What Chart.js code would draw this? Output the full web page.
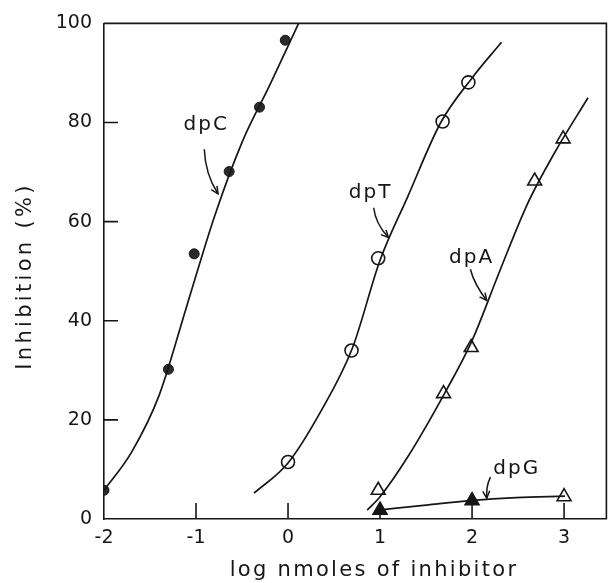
<!DOCTYPE html>
<html>
<head>
<meta charset="utf-8">
<script src="https://cdn.jsdelivr.net/npm/chart.js@4"></script>
<style>
  html, body { margin: 0; padding: 0; background: #fff; }
</style>
</head>
<body>
<canvas id="chart" width="616" height="583"></canvas>
<script>
// measured points (log nmoles, % inhibition)
const dpC_x = [-2, -1.3, -1.02, -0.64, -0.31, -0.03];
const dpC_y = [5.8, 30.2, 53.5, 70.1, 83.1, 96.6];
const dpT_x = [0, 0.69, 0.98, 1.68, 1.96];
const dpT_y = [11.5, 34, 52.6, 80.2, 88.1];
const dpA_x = [0.98, 1.69, 1.99, 2.68, 2.99];
const dpA_y = [5.8, 25.3, 34.6, 68.2, 76.7];
const dpG_x = [1, 2, 3];
const dpG_y = [1.8, 3.7, 4.5];

// hand drawn curves
const fitC_x = [-2, -1.7, -1.4, -1.1, -0.8, -0.5, -0.2, 0.115];
const fitC_y = [5.8, 13.5, 25, 43, 61, 76, 87.5, 100];
const fitT_x = [-0.37, 0, 0.35, 0.7, 1.0, 1.3, 1.66, 2.0, 2.32];
const fitT_y = [5.2, 11.3, 21.5, 34.5, 52.2, 65, 80, 89, 96.2];
const fitA_x = [0.86, 1.0, 1.3, 1.7, 2.0, 2.3, 2.6, 2.9, 3.26];
const fitA_y = [1.8, 4.5, 12.5, 25.3, 36, 50, 63.5, 74, 85];
const fitG_x = [0.98, 1.5, 1.98, 2.48, 3.01];
const fitG_y = [1.8, 2.8, 3.7, 4.3, 4.6];

const xTicks = [-2, -1, 0, 1, 2, 3];
const yTicks = [0, 20, 40, 60, 80, 100];

const xTitle = 'log nmoles of inhibitor';
const yTitle = 'Inhibition (%)';

// curve labels with their arrows (data units)
const notes = [
    { text: 'dpC', at: [-1.135, 78.5], arrow: [[-0.91, 74.6], [-0.9, 69.6], [-0.761, 65.6]] },
    { text: 'dpT', at: [0.66, 64.8], arrow: [[0.931, 62.8], [0.95, 59.6], [1.091, 56.8]] },
    { text: 'dpA', at: [1.75, 51.7], arrow: [[1.982, 50.4], [2.02, 47.5], [2.159, 44.1]] },
    { text: 'dpG', at: [2.231, 9.05], arrow: [[2.2, 8.45], [2.15, 6.6], [2.16, 4.2]] }
];

const INK = '#161616';
const FONT = 'DejaVu Sans';

function pts(xs, ys) {
    return xs.map((v, i) => ({ x: v, y: ys[i] }));
}

function curve(xs, ys) {
    return {
        data: pts(xs, ys),
        showLine: true,
        borderColor: INK,
        borderWidth: 1.7,
        pointRadius: 0,
        cubicInterpolationMode: 'monotone',
        fill: false
    };
}

// frame, inward ticks, labels and axis titles
const annotate = {
    id: 'annotate',
    afterDraw(chart) {
        const { ctx, chartArea: a, scales: { x, y } } = chart;
        ctx.save();
        ctx.strokeStyle = INK;
        ctx.fillStyle = INK;
        ctx.lineWidth = 1.6;

        ctx.beginPath();
        ctx.moveTo(a.left, a.top);
        ctx.lineTo(a.right, a.top);
        ctx.lineTo(a.right, a.bottom);
        ctx.stroke();

        ctx.beginPath();
        yTicks.slice(1, -1).forEach(v => {
            const py = y.getPixelForValue(v);
            ctx.moveTo(a.left, py);
            ctx.lineTo(a.left + 14, py);
        });
        xTicks.slice(1).forEach(v => {
            const px = x.getPixelForValue(v);
            ctx.moveTo(px, a.bottom);
            ctx.lineTo(px, a.bottom - 16);
        });
        ctx.stroke();

        // labels + curved arrows
        ctx.font = '20px ' + FONT;
        ctx.letterSpacing = '2px';
        ctx.textAlign = 'left';
        ctx.textBaseline = 'alphabetic';
        ctx.lineWidth = 1.5;
        notes.forEach(n => {
            ctx.fillText(n.text, x.getPixelForValue(n.at[0]), y.getPixelForValue(n.at[1]));
            const p = n.arrow.map(q => [x.getPixelForValue(q[0]), y.getPixelForValue(q[1])]);
            ctx.beginPath();
            ctx.moveTo(p[0][0], p[0][1]);
            ctx.quadraticCurveTo(p[1][0], p[1][1], p[2][0], p[2][1]);
            ctx.stroke();
            const ang = Math.atan2(p[2][1] - p[1][1], p[2][0] - p[1][0]);
            ctx.beginPath();
            ctx.moveTo(p[2][0] - 8 * Math.cos(ang - 0.45), p[2][1] - 8 * Math.sin(ang - 0.45));
            ctx.lineTo(p[2][0], p[2][1]);
            ctx.lineTo(p[2][0] - 8 * Math.cos(ang + 0.45), p[2][1] - 8 * Math.sin(ang + 0.45));
            ctx.stroke();
        });

        // axis titles
        ctx.font = '21px ' + FONT;
        ctx.textAlign = 'center';
        ctx.letterSpacing = '2.3px';
        ctx.fillText(xTitle, 374, 576);
        ctx.translate(31, 276);
        ctx.rotate(-Math.PI / 2);
        ctx.letterSpacing = '3.3px';
        ctx.fillText(yTitle, 0, 0);
        ctx.restore();
    }
};

const config = {
    type: 'scatter',
    data: {
        datasets: [
            curve(fitC_x, fitC_y),
            curve(fitT_x, fitT_y),
            curve(fitA_x, fitA_y),
            curve(fitG_x, fitG_y),
            {
                label: 'dpC',
                data: pts(dpC_x, dpC_y),
                pointStyle: 'circle',
                pointRadius: 5,
                backgroundColor: '#2a2a2a',
                borderColor: INK,
                borderWidth: 1
            },
            {
                label: 'dpT',
                data: pts(dpT_x, dpT_y),
                pointStyle: 'circle',
                pointRadius: 6.5,
                backgroundColor: '#fff',
                borderColor: INK,
                borderWidth: 1.6
            },
            {
                label: 'dpA',
                data: pts(dpA_x, dpA_y),
                pointStyle: 'triangle',
                pointRadius: 8,
                backgroundColor: '#fff',
                borderColor: INK,
                borderWidth: 1.6
            },
            {
                label: 'dpG',
                data: pts(dpG_x, dpG_y),
                pointStyle: 'triangle',
                pointRadius: 8,
                backgroundColor: [INK, INK, '#fff'],
                borderColor: INK,
                borderWidth: 1.6
            }
        ]
    },
    options: {
        responsive: false,
        animation: false,
        layout: { padding: { top: 22, right: 1, left: 0, bottom: 0 } },
        plugins: {
            legend: { display: false },
            tooltip: { enabled: false }
        },
        scales: {
            x: {
                type: 'linear',
                min: -2,
                max: 3.46,
                afterBuildTicks: s => { s.ticks = xTicks.map(v => ({ value: v })); },
                afterFit: s => { s.height = 64; },
                grid: { display: false, drawTicks: false },
                border: { display: true, color: INK, width: 1.6 },
                ticks: {
                    padding: 8,
                    color: INK,
                    font: { family: FONT, size: 19 }
                }
            },
            y: {
                type: 'linear',
                min: 0,
                max: 100,
                afterBuildTicks: s => { s.ticks = yTicks.map(v => ({ value: v })); },
                afterFit: s => { s.width = 104; },
                grid: { display: false, drawTicks: false },
                border: { display: true, color: INK, width: 1.6 },
                ticks: {
                    padding: 12,
                    color: INK,
                    font: { family: FONT, size: 19 }
                }
            }
        }
    },
    plugins: [annotate]
};

const chart = new Chart(document.getElementById('chart'), config);
</script>
</body>
</html>
